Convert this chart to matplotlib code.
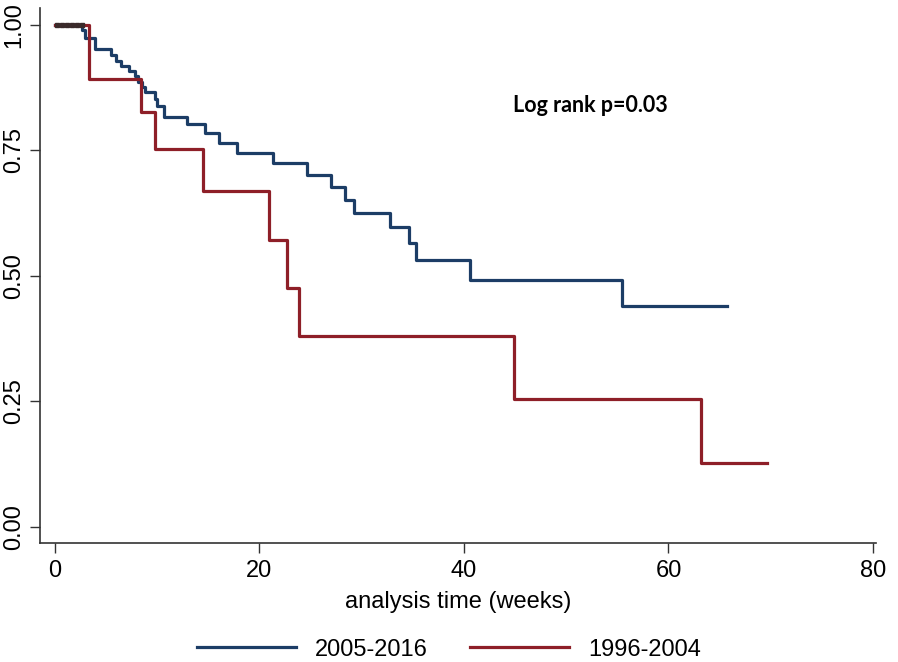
import matplotlib.pyplot as plt

# Kaplan-Meier estimates
t_new = [0, 2.6, 2.9, 3.9, 5.5, 6.0, 6.5, 7.2, 7.8, 8.1, 8.5, 8.8, 9.8, 10.0,
         10.7, 12.9, 14.7, 16.0, 17.8, 21.3, 24.6, 27.0, 28.4, 29.2, 32.8,
         34.6, 35.3, 40.6, 55.5, 65.7]
s_new = [1.0, 0.99, 0.975, 0.952, 0.940, 0.928, 0.918, 0.908, 0.898, 0.887,
         0.877, 0.866, 0.852, 0.838, 0.817, 0.803, 0.784, 0.764, 0.744, 0.724,
         0.701, 0.677, 0.651, 0.625, 0.597, 0.566, 0.531, 0.491, 0.440, 0.440]

t_old = [0, 3.3, 8.4, 9.8, 14.5, 20.9, 22.7, 23.9, 44.9, 63.2, 69.6]
s_old = [1.0, 0.893, 0.827, 0.752, 0.669, 0.572, 0.476, 0.381, 0.254, 0.127, 0.127]

# censored observations at the start
cens_old = [0.2, 0.7, 1.2, 1.7, 2.2, 2.6]

labels = ['2005-2016', '1996-2004']
xticks = [0, 20, 40, 60, 80]
yticks = [0.0, 0.25, 0.5, 0.75, 1.0]

blue = '#1c3d66'
red = '#8e1f28'

plt.rcParams['font.family'] = ['Liberation Sans', 'DejaVu Sans']

fig = plt.figure(figsize=(8.98, 6.62), dpi=100)
ax = fig.add_axes([0.0445, 0.18, 0.931, 0.808])

ax.step(t_new, s_new, where='post', color=blue, lw=2.3, label=labels[0])
ax.step(t_old, s_old, where='post', color=red, lw=2.3, label=labels[1])
ax.plot(cens_old, [1.0] * len(cens_old), ls='none', marker='s', ms=2.2,
        color='#3a2a2a')

ax.set_xlim(-1.47, 80.3)
ax.set_ylim(-0.032, 1.034)
ax.set_xticks(xticks)
ax.set_yticks(yticks)
ax.set_yticklabels(['%.2f' % v for v in yticks], rotation=90, va='center')
ax.tick_params(labelsize=17, length=7.5, width=1, color='#333333', pad=5)
ax.tick_params(axis='y', pad=3)
for sp in ['top', 'right']:
    ax.spines[sp].set_visible(False)
for sp in ['left', 'bottom']:
    ax.spines[sp].set_color('#333333')
    ax.spines[sp].set_linewidth(1.2)

ax.set_xlabel('analysis time (weeks)', fontsize=17, labelpad=6)

ax.text(0.566, 0.805, 'Log rank p=0.03', transform=ax.transAxes,
        fontsize=15.5, fontweight='bold', family=['Lato', 'DejaVu Sans'])

fig.legend(loc='lower center', bbox_to_anchor=(0.5, -0.03), ncol=2,
           frameon=False, fontsize=17, handlelength=4.2, columnspacing=1.8,
           handletextpad=0.8)

fig.savefig('out.png', dpi=100)
